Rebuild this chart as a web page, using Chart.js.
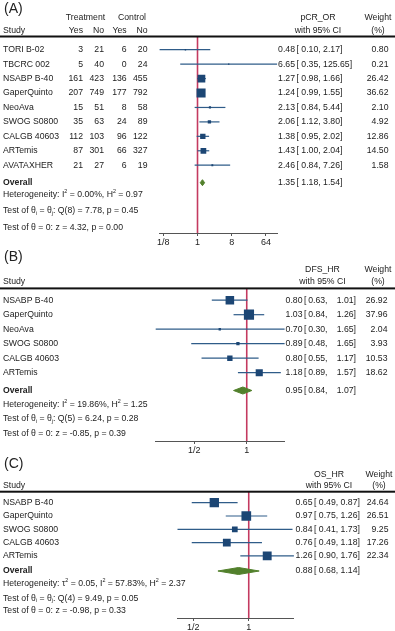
<!DOCTYPE html>
<html>
<head>
<meta charset="utf-8">
<script src="https://cdn.jsdelivr.net/npm/chart.js@4.4.0/dist/chart.umd.min.js"></script>
<style>
  body { margin: 0; background: #fff; width: 395px; height: 631px; overflow: hidden; position: relative; }
  .panel { position: absolute; left: 0; width: 395px; }
  canvas { display: block; }
</style>
</head>
<body>
<div class="panel" style="top:0"><canvas id="chart-a" width="395" height="246"></canvas></div>
<div class="panel" style="top:246px"><canvas id="chart-b" width="395" height="209"></canvas></div>
<div class="panel" style="top:455px"><canvas id="chart-c" width="395" height="176"></canvas></div>
<script>
// (A) pathological complete response, odds ratios
const studiesA = ['TORI B-02', 'TBCRC 002', 'NSABP B-40', 'GaperQuinto', 'NeoAva', 'SWOG S0800', 'CALGB 40603', 'ARTemis', 'AVATAXHER'];
const treatYesA = [3, 5, 161, 207, 15, 35, 112, 87, 21];
const treatNoA = [21, 40, 423, 749, 51, 63, 103, 301, 27];
const ctrlYesA = [6, 0, 136, 177, 8, 24, 96, 66, 6];
const ctrlNoA = [20, 24, 455, 792, 58, 89, 122, 327, 19];
const orA = [0.48, 6.65, 1.27, 1.24, 2.13, 2.06, 1.38, 1.43, 2.46];
const orLowA = [0.10, 0.35, 0.98, 0.99, 0.84, 1.12, 0.95, 1.00, 0.84];
const orHighA = [2.17, 125.65, 1.66, 1.55, 5.44, 3.80, 2.02, 2.04, 7.26];
const weightA = [0.80, 0.21, 26.42, 36.62, 2.10, 4.92, 12.86, 14.50, 1.58];
const overallA = [1.35, 1.18, 1.54];
const ticksA = [0.125, 1, 8, 64];
const tickLabelsA = ['1/8', '1', '8', '64'];
const footA = [
  ['Heterogeneity: I', ['2', 'sup'], ' = 0.00%, H', ['2', 'sup'], ' = 0.97'],
  ['Test of θ', ['i', 'sub'], ' = θ', ['j', 'sub'], ': Q(8) = 7.78, p = 0.45'],
  ['Test of θ = 0: z = 4.32, p = 0.00']
];

// (B) disease-free survival, hazard ratios
const studiesB = ['NSABP B-40', 'GaperQuinto', 'NeoAva', 'SWOG S0800', 'CALGB 40603', 'ARTemis'];
const hrB = [0.80, 1.03, 0.70, 0.89, 0.80, 1.18];
const hrLowB = [0.63, 0.84, 0.30, 0.48, 0.55, 0.89];
const hrHighB = [1.01, 1.26, 1.65, 1.65, 1.17, 1.57];
const weightB = [26.92, 37.96, 2.04, 3.93, 10.53, 18.62];
const overallB = [0.95, 0.84, 1.07];
const ticksB = [0.5, 1];
const tickLabelsB = ['1/2', '1'];
const footB = [
  ['Heterogeneity: I', ['2', 'sup'], ' = 19.86%, H', ['2', 'sup'], ' = 1.25'],
  ['Test of θ', ['i', 'sub'], ' = θ', ['j', 'sub'], ': Q(5) = 6.24, p = 0.28'],
  ['Test of θ = 0: z = -0.85, p = 0.39']
];

// (C) overall survival, hazard ratios
const studiesC = ['NSABP B-40', 'GaperQuinto', 'SWOG S0800', 'CALGB 40603', 'ARTemis'];
const hrC = [0.65, 0.97, 0.84, 0.76, 1.26];
const hrLowC = [0.49, 0.75, 0.41, 0.49, 0.90];
const hrHighC = [0.87, 1.26, 1.73, 1.18, 1.76];
const weightC = [24.64, 26.51, 9.25, 17.26, 22.34];
const overallC = [0.88, 0.68, 1.14];
const ticksC = [0.5, 1];
const tickLabelsC = ['1/2', '1'];
const footC = [
  ['Heterogeneity: τ', ['2', 'sup'], ' = 0.05, I', ['2', 'sup'], ' = 57.83%, H', ['2', 'sup'], ' = 2.37'],
  ['Test of θ', ['i', 'sub'], ' = θ', ['j', 'sub'], ': Q(4) = 9.49, p = 0.05'],
  ['Test of θ = 0: z = -0.98, p = 0.33']
];

const FONT = '"Liberation Sans", Arial, sans-serif';
const FS = 8.7;
const TXT = '#222';
const NAVY = '#1c4674';
const CI_LINE = '#2f5c89';
const GREEN = '#52802c';
const RED = '#c43a60';
const AXIS = '#555';

// rich text with simple super/subscripts
function drawRich(ctx, parts, x, y) {
  let cx = x;
  parts.forEach(p => {
    const t = typeof p === 'string' ? p : p[0];
    const mode = typeof p === 'string' ? null : p[1];
    const s = mode ? FS * 0.62 : FS;
    ctx.font = `${s}px ${FONT}`;
    const dy = mode === 'sup' ? -FS * 0.35 : mode === 'sub' ? FS * 0.28 : 0;
    ctx.fillText(t, cx, y + dy);
    cx += ctx.measureText(t).width;
  });
}

function textPlugin(cfg) {
  return {
    id: 'forestText',
    afterDraw(chart) {
      const { ctx, chartArea, scales: { y } } = chart;
      const c = cfg.col;
      const put = (t, x, yy, align, bold) => {
        ctx.font = `${bold ? 'bold ' : ''}${FS}px ${FONT}`;
        ctx.textAlign = align;
        ctx.fillText(t, x, yy);
      };
      const textW = t => { ctx.font = `${FS}px ${FONT}`; return ctx.measureText(t).width; };
      // estimate [low, high]; a very wide upper bound just follows the lower one
      const ciText = (est, lo, hi, yy) => {
        put(est.toFixed(2), c.estR, yy, 'right');
        put('[', c.brL, yy, 'left');
        const loTxt = lo.toFixed(2) + ',';
        const hiTxt = hi.toFixed(2) + ']';
        if (c.highR - textW(hiTxt) - 3 < c.lowR) {
          const lx = c.brL + textW('[ ');
          put(loTxt, lx, yy, 'left');
          put(hiTxt, lx + textW(loTxt + ' '), yy, 'left');
        } else {
          put(loTxt, c.lowR, yy, 'right');
          put(hiTxt, c.highR, yy, 'right');
        }
      };
      ctx.save();
      ctx.textBaseline = 'middle';
      ctx.fillStyle = TXT;

      ctx.font = `14px ${FONT}`;
      ctx.textAlign = 'left';
      ctx.fillText(cfg.title, 4, cfg.titleY);

      ctx.fillStyle = '#111';
      ctx.fillRect(0, chartArea.top - 1, 395, 2);
      ctx.fillStyle = TXT;

      const [h1, h2] = cfg.hdrY;
      put('Study', 3, h2, 'left');
      if (cfg.counts) {
        put('Treatment', cfg.groupC[0], h1, 'center');
        put('Control', cfg.groupC[1], h1, 'center');
        ['Yes', 'No', 'Yes', 'No'].forEach((t, j) => put(t, cfg.countsR[j], h2, 'right'));
      }
      put(cfg.effLabel, c.effC, h1, 'center');
      put('with 95% CI', c.effC, h2, 'center');
      put('Weight', c.wC, h1, 'center');
      put('(%)', c.wC, h2, 'center');

      cfg.studies.forEach((s, i) => {
        const yy = y.getPixelForValue(i);
        put(s, 3, yy, 'left');
        if (cfg.counts) cfg.counts.forEach((arr, j) => put(String(arr[i]), cfg.countsR[j], yy, 'right'));
        ciText(cfg.est[i], cfg.low[i], cfg.high[i], yy);
        put(cfg.weight[i].toFixed(2), c.wR, yy, 'right');
      });

      const oy = y.getPixelForValue((cfg.ovY - cfg.row0) / cfg.step);
      put('Overall', 3, oy, 'left', true);
      const [ov, ovLo, ovHi] = cfg.overall;
      ciText(ov, ovLo, ovHi, oy);

      ctx.textAlign = 'left';
      cfg.foot.forEach((parts, j) => drawRich(ctx, parts, 3, cfg.footY[j]));
      ctx.restore();
    }
  };
}

function buildPanel(id, cfg) {
  const ymin = (cfg.hdr - cfg.row0) / cfg.step;
  const ymax = (cfg.axis - cfg.row0) / cfg.step;
  const ovRow = (cfg.ovY - cfg.row0) / cfg.step;
  const dh = cfg.diamondH / cfg.step;
  const [ov, ovLo, ovHi] = cfg.overall;
  const xmin = Math.min(...cfg.low, ovLo);
  const xmax = Math.max(...cfg.high, ovHi);

  const datasets = [
    {
      type: 'scatter', order: 0,
      data: cfg.est.map((v, i) => ({ x: v, y: i })),
      pointStyle: 'rect',
      pointRadius: cfg.weight.map(w => Math.max(1.4, cfg.k * Math.sqrt(w)) / Math.SQRT2),
      backgroundColor: NAVY, borderWidth: 0
    },
    {
      type: 'line', order: 1,
      data: [
        { x: ovLo, y: ovRow }, { x: ov, y: ovRow - dh },
        { x: ovHi, y: ovRow }, { x: ov, y: ovRow + dh }, { x: ovLo, y: ovRow }
      ],
      borderColor: GREEN, borderWidth: 1, backgroundColor: GREEN,
      fill: 'shape', pointRadius: 0, tension: 0
    },
    ...cfg.low.map((lo, i) => ({
      type: 'line', order: 2,
      data: [{ x: lo, y: i }, { x: cfg.high[i], y: i }],
      borderColor: CI_LINE, borderWidth: 1.2, pointRadius: 0, clip: false
    })),
    {
      type: 'line', order: 3,
      data: [{ x: 1, y: ymin }, { x: 1, y: ymax }],
      borderColor: RED, borderWidth: 1.6, pointRadius: 0
    }
  ];

  return new Chart(document.getElementById(id), {
    type: 'scatter',
    data: { datasets },
    options: {
      responsive: false,
      animation: false,
      events: [],
      layout: {
        padding: { left: cfg.plotL, right: 395 - cfg.plotR, top: cfg.hdr, bottom: cfg.H - cfg.axis - 13 }
      },
      plugins: { legend: { display: false }, tooltip: { enabled: false } },
      scales: {
        x: {
          type: 'logarithmic', min: xmin, max: xmax, bounds: 'data',
          afterBuildTicks: s => { s.ticks = cfg.ticks.map(v => ({ value: v })); },
          afterFit: s => { s.height = 13; },
          ticks: {
            autoSkip: false, maxRotation: 0, padding: 1, color: TXT,
            font: { size: 9, family: FONT },
            callback: (v, i) => cfg.tickLabels[i]
          },
          grid: { drawOnChartArea: false, drawTicks: true, tickLength: 3, color: AXIS },
          border: { color: AXIS, width: 1 }
        },
        y: { type: 'linear', reverse: true, min: ymin, max: ymax, display: false }
      }
    },
    plugins: [textPlugin(cfg)]
  });
}

buildPanel('chart-a', {
  title: '(A)', titleY: 9.5, effLabel: 'pCR_OR',
  studies: studiesA, est: orA, low: orLowA, high: orHighA, weight: weightA, overall: overallA,
  counts: [treatYesA, treatNoA, ctrlYesA, ctrlNoA],
  ticks: ticksA, tickLabels: tickLabelsA, foot: footA,
  H: 246, hdrY: [17.3, 30.7], hdr: 36.5, row0: 49.7, step: 14.44, axis: 233, ovY: 182.7,
  footY: [194.3, 211, 227.7], plotL: 159.6, plotR: 277.1, k: 1.5, diamondH: 3,
  countsR: [83, 104, 126.7, 147.5], groupC: [85.5, 132],
  col: { estR: 295, brL: 296.5, lowR: 322, highR: 342.5, wR: 388.5, effC: 318, wC: 378 }
});

buildPanel('chart-b', {
  title: '(B)', titleY: 11, effLabel: 'DFS_HR',
  studies: studiesB, est: hrB, low: hrLowB, high: hrHighB, weight: weightB, overall: overallB,
  ticks: ticksB, tickLabels: tickLabelsB, foot: footB,
  H: 209, hdrY: [23.3, 35.3], hdr: 42.4, row0: 54.2, step: 14.5, axis: 195, ovY: 144.5,
  footY: [159, 173, 187.7], plotL: 155.7, plotR: 284.6, k: 1.65, diamondH: 3.5,
  col: { estR: 302.5, brL: 304, lowR: 327.5, highR: 356, wR: 387.5, effC: 322.5, wC: 378 }
});

buildPanel('chart-c', {
  title: '(C)', titleY: 9.3, effLabel: 'OS_HR',
  studies: studiesC, est: hrC, low: hrLowC, high: hrHighC, weight: weightC, overall: overallC,
  ticks: ticksC, tickLabels: tickLabelsC, foot: footC,
  H: 176, hdrY: [20, 30.3], hdr: 36.7, row0: 47.7, step: 13.3, axis: 163, ovY: 116,
  footY: [128.3, 143.3, 156], plotL: 177.5, plotR: 293.9, k: 1.88, diamondH: 3.5,
  col: { estR: 312.5, brL: 314, lowR: 338.5, highR: 360, wR: 388.5, effC: 329, wC: 379 }
});
</script>
</body>
</html>
